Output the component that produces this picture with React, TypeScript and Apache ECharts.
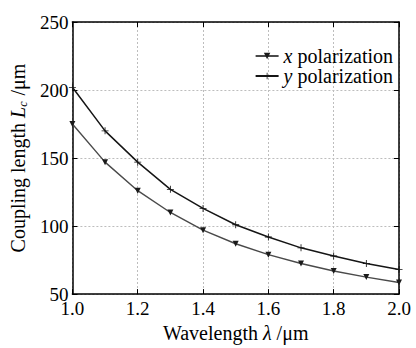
import React, { useEffect, useRef } from "react";
import * as echarts from "echarts";

const wavelengths = [1.0, 1.1, 1.2, 1.3, 1.4, 1.5, 1.6, 1.7, 1.8, 1.9, 2.0];
const xPolarization = [175, 147, 126, 110, 97, 87, 79, 72.5, 67, 62.5, 58.5];
const yPolarization = [202, 170, 147, 127, 113, 101, 92, 84, 78, 72.5, 68];
const seriesNames = ["x polarization", "y polarization"];

const FONT = "Liberation Serif";
const PLUS = "path://M4.4,0 H5.6 V4.4 H10 V5.6 H5.6 V10 H4.4 V5.6 H0 V4.4 H4.4 Z";

export default function App() {
  const ref = useRef<HTMLDivElement>(null);
  useEffect(() => {
    if (!ref.current) return;
    const chart = echarts.init(ref.current, null, { renderer: "svg" });
    const axisLine = { show: true, lineStyle: { color: "#000", width: 1.5 } };
    const splitLine = { show: true, lineStyle: { color: "#bdbdbd", width: 1, type: [2, 2] } };
    const tick = { show: true, inside: true, length: 5, lineStyle: { color: "#000", width: 1 } };
    const rich = {
      i: { fontFamily: FONT, fontStyle: "italic", fontSize: 20, color: "#000" },
      sub: { fontFamily: FONT, fontStyle: "italic", fontSize: 12, color: "#000", padding: [10, 1, 0, 0] },
      n: { fontFamily: FONT, fontSize: 20, color: "#000" },
    };
    chart.setOption({
      animation: false,
      textStyle: { fontFamily: FONT },
      grid: { left: 72, right: 17, top: 22, bottom: 44, containLabel: false },
      legend: {
        orient: "vertical",
        right: 18,
        top: 41,
        itemGap: 0,
        itemWidth: 23,
        itemHeight: 8,
        data: seriesNames,
        formatter: (name: string) => `{i|${name[0]}}{n|${name.slice(1)}}`,
        textStyle: { fontFamily: FONT, fontSize: 20, color: "#000", rich },
      },
      xAxis: [
        {
          type: "value",
          min: 1.0,
          max: 2.0,
          interval: 0.2,
          name: "{n|Wavelength }{i|λ}{n| /μm}",
          nameLocation: "middle",
          nameGap: 26,
          nameTextStyle: { fontFamily: FONT, fontSize: 20, rich },
          axisLine,
          axisTick: tick,
          axisLabel: {
            fontFamily: FONT,
            fontSize: 19,
            color: "#000",
            margin: 5,
            formatter: (v: number) => v.toFixed(1),
          },
          splitLine,
        },
        {
          type: "value",
          position: "top",
          min: 1.0,
          max: 2.0,
          interval: 0.2,
          axisLine,
          axisTick: tick,
          axisLabel: { show: false },
          splitLine: { show: false },
        },
      ],
      yAxis: [
        {
          type: "value",
          min: 50,
          max: 250,
          interval: 50,
          name: "{n|Coupling length }{i|L}{sub|c}{n| /μm}",
          nameLocation: "middle",
          nameGap: 35,
          nameTextStyle: { fontFamily: FONT, fontSize: 20, rich },
          axisLine,
          axisTick: tick,
          axisLabel: { fontFamily: FONT, fontSize: 19, color: "#000", margin: 4 },
          splitLine,
        },
        {
          type: "value",
          position: "right",
          min: 50,
          max: 250,
          interval: 50,
          axisLine,
          axisTick: tick,
          axisLabel: { show: false },
          splitLine: { show: false },
        },
      ],
      series: [
        {
          name: seriesNames[0],
          type: "line",
          data: wavelengths.map((w, i) => [w, xPolarization[i]]),
          symbol: "triangle",
          symbolRotate: 180,
          symbolSize: 6,
          lineStyle: { color: "#4a4a4a", width: 1.4 },
          itemStyle: { color: "#1a1a1a" },
        },
        {
          name: seriesNames[1],
          type: "line",
          data: wavelengths.map((w, i) => [w, yPolarization[i]]),
          symbol: PLUS,
          symbolSize: 7,
          lineStyle: { color: "#151515", width: 1.5 },
          itemStyle: { color: "#151515" },
        },
      ],
    });
    return () => chart.dispose();
  }, []);
  return <div ref={ref} style={{ width: 416, height: 348, position: "absolute", left: 0, top: 0, background: "#fff" }} />;
}
